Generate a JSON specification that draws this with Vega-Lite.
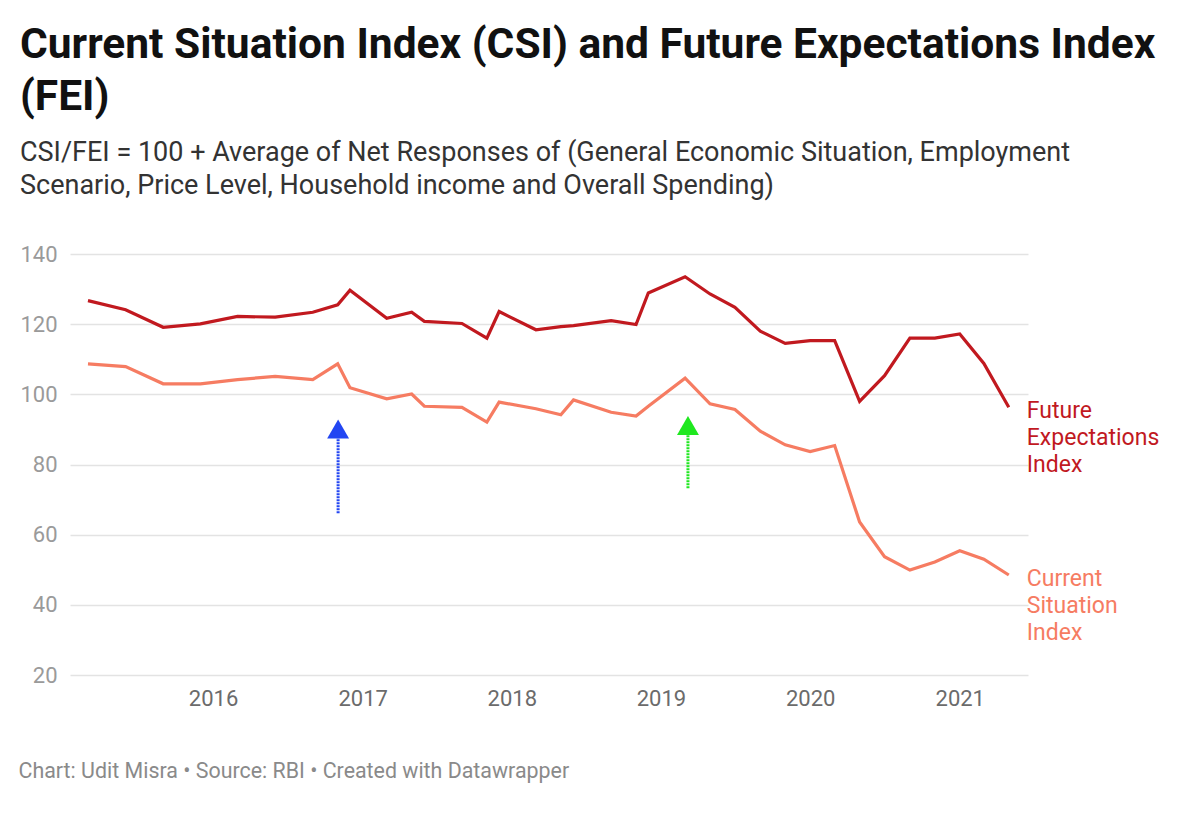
{
  "$schema": "https://vega.github.io/schema/vega-lite/v6.json",
  "width": 958,
  "height": 421,
  "autosize": {"type": "none"},
  "padding": {"left": 70, "top": 254, "right": 172, "bottom": 138},
  "background": "#ffffff",
  "title": {
    "text": ["Current Situation Index (CSI) and Future Expectations Index", "(FEI)"],
    "subtitle": ["CSI/FEI = 100 + Average of Net Responses of (General Economic Situation, Employment", "Scenario, Price Level, Household income and Overall Spending)"],
    "anchor": "start",
    "frame": "group",
    "dx": -50,
    "offset": 44,
    "font": "Roboto",
    "fontSize": 42.5,
    "fontWeight": "bold",
    "color": "#111111",
    "lineHeight": 52,
    "subtitleFont": "Roboto",
    "subtitleFontSize": 27,
    "subtitleColor": "#333333",
    "subtitleLineHeight": 33,
    "subtitlePadding": 22
  },
  "config": {
    "view": {"stroke": null},
    "font": "Roboto"
  },
  "datasets": {
    "indices": [
      {"date": "2015-03-01", "series": "Future Expectations Index", "value": 126.7},
      {"date": "2015-06-01", "series": "Future Expectations Index", "value": 124.1},
      {"date": "2015-09-01", "series": "Future Expectations Index", "value": 119.1},
      {"date": "2015-12-01", "series": "Future Expectations Index", "value": 120.1},
      {"date": "2016-03-01", "series": "Future Expectations Index", "value": 122.2},
      {"date": "2016-06-01", "series": "Future Expectations Index", "value": 122.0},
      {"date": "2016-09-01", "series": "Future Expectations Index", "value": 123.4},
      {"date": "2016-11-01", "series": "Future Expectations Index", "value": 125.5},
      {"date": "2016-12-01", "series": "Future Expectations Index", "value": 129.7},
      {"date": "2017-03-01", "series": "Future Expectations Index", "value": 121.7},
      {"date": "2017-05-01", "series": "Future Expectations Index", "value": 123.4},
      {"date": "2017-06-01", "series": "Future Expectations Index", "value": 120.8},
      {"date": "2017-09-01", "series": "Future Expectations Index", "value": 120.2},
      {"date": "2017-11-01", "series": "Future Expectations Index", "value": 116.0},
      {"date": "2017-12-01", "series": "Future Expectations Index", "value": 123.6},
      {"date": "2018-03-01", "series": "Future Expectations Index", "value": 118.4},
      {"date": "2018-05-01", "series": "Future Expectations Index", "value": 119.3},
      {"date": "2018-06-01", "series": "Future Expectations Index", "value": 119.6},
      {"date": "2018-09-01", "series": "Future Expectations Index", "value": 121.0},
      {"date": "2018-11-01", "series": "Future Expectations Index", "value": 119.9},
      {"date": "2018-12-01", "series": "Future Expectations Index", "value": 128.9},
      {"date": "2019-03-01", "series": "Future Expectations Index", "value": 133.5},
      {"date": "2019-05-01", "series": "Future Expectations Index", "value": 128.6},
      {"date": "2019-07-01", "series": "Future Expectations Index", "value": 124.8},
      {"date": "2019-09-01", "series": "Future Expectations Index", "value": 118.0},
      {"date": "2019-11-01", "series": "Future Expectations Index", "value": 114.5},
      {"date": "2020-01-01", "series": "Future Expectations Index", "value": 115.3},
      {"date": "2020-03-01", "series": "Future Expectations Index", "value": 115.3},
      {"date": "2020-05-01", "series": "Future Expectations Index", "value": 98.0},
      {"date": "2020-07-01", "series": "Future Expectations Index", "value": 105.3},
      {"date": "2020-09-01", "series": "Future Expectations Index", "value": 116.0},
      {"date": "2020-11-01", "series": "Future Expectations Index", "value": 116.0},
      {"date": "2021-01-01", "series": "Future Expectations Index", "value": 117.2},
      {"date": "2021-03-01", "series": "Future Expectations Index", "value": 108.8},
      {"date": "2021-05-01", "series": "Future Expectations Index", "value": 96.3},
      {"date": "2015-03-01", "series": "Current Situation Index", "value": 108.7},
      {"date": "2015-06-01", "series": "Current Situation Index", "value": 107.9},
      {"date": "2015-09-01", "series": "Current Situation Index", "value": 103.0},
      {"date": "2015-12-01", "series": "Current Situation Index", "value": 103.0},
      {"date": "2016-03-01", "series": "Current Situation Index", "value": 104.2},
      {"date": "2016-06-01", "series": "Current Situation Index", "value": 105.1},
      {"date": "2016-09-01", "series": "Current Situation Index", "value": 104.2},
      {"date": "2016-11-01", "series": "Current Situation Index", "value": 108.7},
      {"date": "2016-12-01", "series": "Current Situation Index", "value": 101.9},
      {"date": "2017-03-01", "series": "Current Situation Index", "value": 98.7},
      {"date": "2017-05-01", "series": "Current Situation Index", "value": 100.1},
      {"date": "2017-06-01", "series": "Current Situation Index", "value": 96.6},
      {"date": "2017-09-01", "series": "Current Situation Index", "value": 96.3},
      {"date": "2017-11-01", "series": "Current Situation Index", "value": 92.1},
      {"date": "2017-12-01", "series": "Current Situation Index", "value": 97.8},
      {"date": "2018-03-01", "series": "Current Situation Index", "value": 95.9},
      {"date": "2018-05-01", "series": "Current Situation Index", "value": 94.2},
      {"date": "2018-06-01", "series": "Current Situation Index", "value": 98.4},
      {"date": "2018-09-01", "series": "Current Situation Index", "value": 94.9},
      {"date": "2018-11-01", "series": "Current Situation Index", "value": 93.8},
      {"date": "2018-12-01", "series": "Current Situation Index", "value": 96.6},
      {"date": "2019-03-01", "series": "Current Situation Index", "value": 104.6},
      {"date": "2019-05-01", "series": "Current Situation Index", "value": 97.3},
      {"date": "2019-07-01", "series": "Current Situation Index", "value": 95.7},
      {"date": "2019-09-01", "series": "Current Situation Index", "value": 89.5},
      {"date": "2019-11-01", "series": "Current Situation Index", "value": 85.6},
      {"date": "2020-01-01", "series": "Current Situation Index", "value": 83.7},
      {"date": "2020-03-01", "series": "Current Situation Index", "value": 85.4},
      {"date": "2020-05-01", "series": "Current Situation Index", "value": 63.6},
      {"date": "2020-07-01", "series": "Current Situation Index", "value": 53.7},
      {"date": "2020-09-01", "series": "Current Situation Index", "value": 49.9},
      {"date": "2020-11-01", "series": "Current Situation Index", "value": 52.2},
      {"date": "2021-01-01", "series": "Current Situation Index", "value": 55.4},
      {"date": "2021-03-01", "series": "Current Situation Index", "value": 53.0},
      {"date": "2021-05-01", "series": "Current Situation Index", "value": 48.5}
    ],
    "arrows": [
      {"date": "2016-11-02", "arrow": "blue", "from": 66.1, "to": 88.0, "tip": 90.1},
      {"date": "2019-03-08", "arrow": "green", "from": 73.2, "to": 88.8, "tip": 91.1}
    ]
  },
  "encoding": {
    "x": {
      "field": "date",
      "type": "temporal",
      "scale": {"domain": [{"year": 2015, "month": 1, "date": 16}, {"year": 2021, "month": 6, "date": 17}]},
      "axis": {
        "title": "Chart: Udit Misra • Source: RBI • Created with Datawrapper",
        "titleX": -52,
        "titleY": 96,
        "titleAlign": "left",
        "titleAnchor": null,
        "titleBaseline": "middle",
        "titleFont": "Roboto",
        "titleFontSize": 21.4,
        "titleFontWeight": "normal",
        "titleColor": "#8a8a8a",
        "format": "%Y",
        "tickCount": {"interval": "year", "step": 1},
        "labelFont": "Roboto",
        "labelFontSize": 22,
        "labelColor": "#6b6b6b",
        "labelPadding": 13,
        "labelBaseline": "top",
        "ticks": false,
        "domain": false,
        "grid": false
      }
    }
  },
  "layer": [
    {
      "data": {"name": "indices"},
      "mark": {"type": "line", "strokeWidth": 3.2, "strokeJoin": "miter", "interpolate": "linear"},
      "encoding": {
        "y": {
          "field": "value",
          "type": "quantitative",
          "scale": {"domain": [20, 140], "nice": false, "zero": false},
          "axis": {
            "title": null,
            "values": [20, 40, 60, 80, 100, 120, 140],
            "labelFont": "Roboto",
            "labelFontSize": 22,
            "labelColor": "#9a9a9a",
            "labelPadding": 13,
            "ticks": false,
            "domain": false,
            "gridColor": "#e3e3e3",
            "gridWidth": 1.5
          }
        },
        "color": {
          "field": "series",
          "type": "nominal",
          "scale": {"domain": ["Future Expectations Index", "Current Situation Index"], "range": ["#c1191f", "#f67c62"]},
          "legend": null
        }
      }
    },
    {
      "data": {"name": "indices"},
      "transform": [{"filter": "year(datum.date) == 2021 && month(datum.date) == 4"}],
      "mark": {"type": "text", "align": "left", "baseline": "top", "dx": 18, "dy": -7, "fontSize": 23, "font": "Roboto", "lineHeight": 27, "lineBreak": " "},
      "encoding": {
        "y": {"field": "value", "type": "quantitative"},
        "text": {"field": "series"},
        "color": {
          "field": "series",
          "type": "nominal",
          "scale": {"domain": ["Future Expectations Index", "Current Situation Index"], "range": ["#c1191f", "#f67c62"]},
          "legend": null
        }
      }
    },
    {
      "data": {"name": "arrows"},
      "mark": {"type": "rule", "strokeWidth": 3, "strokeDash": [2, 1]},
      "encoding": {
        "y": {"field": "from", "type": "quantitative"},
        "y2": {"field": "to"},
        "stroke": {
          "field": "arrow",
          "type": "nominal",
          "scale": {"domain": ["blue", "green"], "range": ["#2346f2", "#1fe81f"]},
          "legend": null
        }
      }
    },
    {
      "data": {"name": "arrows"},
      "mark": {"type": "point", "shape": "triangle-up", "filled": true, "size": 480, "opacity": 1},
      "encoding": {
        "y": {"field": "tip", "type": "quantitative"},
        "fill": {
          "field": "arrow",
          "type": "nominal",
          "scale": {"domain": ["blue", "green"], "range": ["#2346f2", "#1fe81f"]},
          "legend": null
        }
      }
    }
  ],
  "resolve": {"scale": {"color": "independent"}}
}
